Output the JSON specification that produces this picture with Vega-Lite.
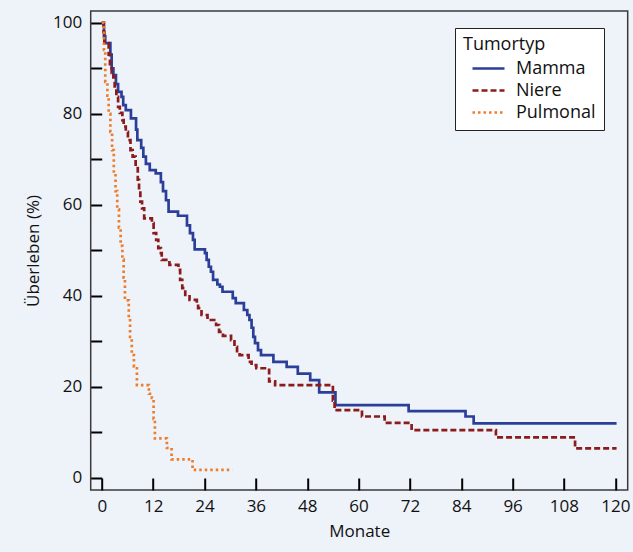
{
  "$schema": "https://vega.github.io/schema/vega-lite/v6.json",
  "width": 537,
  "height": 479,
  "autosize": {"type": "none"},
  "padding": {"left": 90.7, "top": 11, "right": 5.3, "bottom": 62},
  "background": "#eef2f9",
  "config": {
    "font": "Open Sans",
    "view": {"stroke": "#3a3a3a", "strokeWidth": 1.5, "fill": "#eef2f9"},
    "axis": {"grid": false, "domain": false, "tickColor": "#000", "tickWidth": 2, "labelColor": "#111", "titleColor": "#111", "labelFontSize": 17, "titleFontSize": 17, "titleFontWeight": "normal"}
  },
  "data": {
    "values": [
      {"Tumortyp": "Mamma", "Monat": 0, "Wert": 100},
      {"Tumortyp": "Mamma", "Monat": 0.5, "Wert": 97},
      {"Tumortyp": "Mamma", "Monat": 0.8, "Wert": 95.5},
      {"Tumortyp": "Mamma", "Monat": 2.0, "Wert": 93},
      {"Tumortyp": "Mamma", "Monat": 2.3, "Wert": 90},
      {"Tumortyp": "Mamma", "Monat": 2.7, "Wert": 88.5},
      {"Tumortyp": "Mamma", "Monat": 3.3, "Wert": 86.5},
      {"Tumortyp": "Mamma", "Monat": 3.8, "Wert": 84.8},
      {"Tumortyp": "Mamma", "Monat": 4.6, "Wert": 83.7},
      {"Tumortyp": "Mamma", "Monat": 5.0, "Wert": 81.9},
      {"Tumortyp": "Mamma", "Monat": 5.6, "Wert": 80.8},
      {"Tumortyp": "Mamma", "Monat": 6.8, "Wert": 79},
      {"Tumortyp": "Mamma", "Monat": 8.0, "Wert": 76.5},
      {"Tumortyp": "Mamma", "Monat": 8.3, "Wert": 74.2},
      {"Tumortyp": "Mamma", "Monat": 9.2, "Wert": 72.5},
      {"Tumortyp": "Mamma", "Monat": 9.7, "Wert": 70.6},
      {"Tumortyp": "Mamma", "Monat": 10.3, "Wert": 69},
      {"Tumortyp": "Mamma", "Monat": 11.2, "Wert": 67.6},
      {"Tumortyp": "Mamma", "Monat": 12.6, "Wert": 66.9},
      {"Tumortyp": "Mamma", "Monat": 13.8, "Wert": 65},
      {"Tumortyp": "Mamma", "Monat": 14.3, "Wert": 63},
      {"Tumortyp": "Mamma", "Monat": 15.0, "Wert": 61},
      {"Tumortyp": "Mamma", "Monat": 15.6, "Wert": 58.5},
      {"Tumortyp": "Mamma", "Monat": 17.8, "Wert": 57.6},
      {"Tumortyp": "Mamma", "Monat": 19.9, "Wert": 55.5},
      {"Tumortyp": "Mamma", "Monat": 20.6, "Wert": 53.8},
      {"Tumortyp": "Mamma", "Monat": 21.3, "Wert": 52.3},
      {"Tumortyp": "Mamma", "Monat": 21.7, "Wert": 50.2},
      {"Tumortyp": "Mamma", "Monat": 24.1, "Wert": 49.4},
      {"Tumortyp": "Mamma", "Monat": 24.5, "Wert": 47.9},
      {"Tumortyp": "Mamma", "Monat": 25.0, "Wert": 46.4},
      {"Tumortyp": "Mamma", "Monat": 25.5, "Wert": 45.3},
      {"Tumortyp": "Mamma", "Monat": 26.0, "Wert": 43.5},
      {"Tumortyp": "Mamma", "Monat": 27.0, "Wert": 42.5},
      {"Tumortyp": "Mamma", "Monat": 27.6, "Wert": 42},
      {"Tumortyp": "Mamma", "Monat": 28.2, "Wert": 40.9},
      {"Tumortyp": "Mamma", "Monat": 30.6, "Wert": 39.5},
      {"Tumortyp": "Mamma", "Monat": 31.3, "Wert": 38.4},
      {"Tumortyp": "Mamma", "Monat": 33.2, "Wert": 36.9},
      {"Tumortyp": "Mamma", "Monat": 34.0, "Wert": 35.8},
      {"Tumortyp": "Mamma", "Monat": 34.5, "Wert": 34.7},
      {"Tumortyp": "Mamma", "Monat": 35.0, "Wert": 33},
      {"Tumortyp": "Mamma", "Monat": 35.4, "Wert": 31},
      {"Tumortyp": "Mamma", "Monat": 35.8, "Wert": 29.6},
      {"Tumortyp": "Mamma", "Monat": 36.5, "Wert": 28.1},
      {"Tumortyp": "Mamma", "Monat": 37.2, "Wert": 27},
      {"Tumortyp": "Mamma", "Monat": 40.1, "Wert": 25.5},
      {"Tumortyp": "Mamma", "Monat": 43.2, "Wert": 24.4},
      {"Tumortyp": "Mamma", "Monat": 45.8, "Wert": 22.9},
      {"Tumortyp": "Mamma", "Monat": 48.7, "Wert": 21.5},
      {"Tumortyp": "Mamma", "Monat": 50.8, "Wert": 18.8},
      {"Tumortyp": "Mamma", "Monat": 54.6, "Wert": 16},
      {"Tumortyp": "Mamma", "Monat": 71.7, "Wert": 14.7},
      {"Tumortyp": "Mamma", "Monat": 85.0, "Wert": 13.5},
      {"Tumortyp": "Mamma", "Monat": 86.9, "Wert": 12.0},
      {"Tumortyp": "Mamma", "Monat": 120.3, "Wert": 12.0},
      {"Tumortyp": "Niere", "Monat": 0, "Wert": 100},
      {"Tumortyp": "Niere", "Monat": 0.4, "Wert": 98},
      {"Tumortyp": "Niere", "Monat": 0.6, "Wert": 95.5},
      {"Tumortyp": "Niere", "Monat": 1.6, "Wert": 93},
      {"Tumortyp": "Niere", "Monat": 1.9, "Wert": 90},
      {"Tumortyp": "Niere", "Monat": 2.3, "Wert": 89},
      {"Tumortyp": "Niere", "Monat": 2.7, "Wert": 88},
      {"Tumortyp": "Niere", "Monat": 3.0, "Wert": 86},
      {"Tumortyp": "Niere", "Monat": 3.4, "Wert": 83.7},
      {"Tumortyp": "Niere", "Monat": 3.8, "Wert": 81.5},
      {"Tumortyp": "Niere", "Monat": 4.2, "Wert": 80.2},
      {"Tumortyp": "Niere", "Monat": 4.8, "Wert": 78.6},
      {"Tumortyp": "Niere", "Monat": 5.1, "Wert": 77.2},
      {"Tumortyp": "Niere", "Monat": 5.6, "Wert": 76},
      {"Tumortyp": "Niere", "Monat": 6.1, "Wert": 74.2},
      {"Tumortyp": "Niere", "Monat": 6.7, "Wert": 72},
      {"Tumortyp": "Niere", "Monat": 7.2, "Wert": 70.6},
      {"Tumortyp": "Niere", "Monat": 7.9, "Wert": 68.4},
      {"Tumortyp": "Niere", "Monat": 8.4, "Wert": 65.5},
      {"Tumortyp": "Niere", "Monat": 8.7, "Wert": 63.3},
      {"Tumortyp": "Niere", "Monat": 9.0, "Wert": 60.7},
      {"Tumortyp": "Niere", "Monat": 9.4, "Wert": 59.2},
      {"Tumortyp": "Niere", "Monat": 9.9, "Wert": 57},
      {"Tumortyp": "Niere", "Monat": 11.7, "Wert": 56},
      {"Tumortyp": "Niere", "Monat": 12.1, "Wert": 53.8},
      {"Tumortyp": "Niere", "Monat": 12.7, "Wert": 52.3},
      {"Tumortyp": "Niere", "Monat": 13.2, "Wert": 50.5},
      {"Tumortyp": "Niere", "Monat": 13.8, "Wert": 49.4},
      {"Tumortyp": "Niere", "Monat": 14.0, "Wert": 47.9},
      {"Tumortyp": "Niere", "Monat": 15.8, "Wert": 46.8},
      {"Tumortyp": "Niere", "Monat": 17.9, "Wert": 45.7},
      {"Tumortyp": "Niere", "Monat": 18.3, "Wert": 43.5},
      {"Tumortyp": "Niere", "Monat": 18.8, "Wert": 41.7},
      {"Tumortyp": "Niere", "Monat": 19.5, "Wert": 40.2},
      {"Tumortyp": "Niere", "Monat": 20.5, "Wert": 39.1},
      {"Tumortyp": "Niere", "Monat": 22.2, "Wert": 38.4},
      {"Tumortyp": "Niere", "Monat": 22.5, "Wert": 37.3},
      {"Tumortyp": "Niere", "Monat": 23.3, "Wert": 35.8},
      {"Tumortyp": "Niere", "Monat": 24.7, "Wert": 34.7},
      {"Tumortyp": "Niere", "Monat": 26.7, "Wert": 33.6},
      {"Tumortyp": "Niere", "Monat": 27.4, "Wert": 32.1},
      {"Tumortyp": "Niere", "Monat": 28.3, "Wert": 31.2},
      {"Tumortyp": "Niere", "Monat": 30.2, "Wert": 30.3},
      {"Tumortyp": "Niere", "Monat": 31.0, "Wert": 28.8},
      {"Tumortyp": "Niere", "Monat": 31.6, "Wert": 27.5},
      {"Tumortyp": "Niere", "Monat": 32.2, "Wert": 27},
      {"Tumortyp": "Niere", "Monat": 34.3, "Wert": 25.5},
      {"Tumortyp": "Niere", "Monat": 35.0, "Wert": 24.8},
      {"Tumortyp": "Niere", "Monat": 36.1, "Wert": 24.1},
      {"Tumortyp": "Niere", "Monat": 39.1, "Wert": 21.2},
      {"Tumortyp": "Niere", "Monat": 40.5, "Wert": 20.4},
      {"Tumortyp": "Niere", "Monat": 54.0, "Wert": 17},
      {"Tumortyp": "Niere", "Monat": 54.4, "Wert": 14.9},
      {"Tumortyp": "Niere", "Monat": 60.8, "Wert": 13.5},
      {"Tumortyp": "Niere", "Monat": 66.1, "Wert": 12.1},
      {"Tumortyp": "Niere", "Monat": 72.4, "Wert": 10.5},
      {"Tumortyp": "Niere", "Monat": 92.1, "Wert": 8.9},
      {"Tumortyp": "Niere", "Monat": 110.6, "Wert": 6.5},
      {"Tumortyp": "Niere", "Monat": 120.3, "Wert": 6.5},
      {"Tumortyp": "Pulmonal", "Monat": 0, "Wert": 100},
      {"Tumortyp": "Pulmonal", "Monat": 0.5, "Wert": 94},
      {"Tumortyp": "Pulmonal", "Monat": 0.8, "Wert": 87},
      {"Tumortyp": "Pulmonal", "Monat": 1.3, "Wert": 84},
      {"Tumortyp": "Pulmonal", "Monat": 1.6, "Wert": 80},
      {"Tumortyp": "Pulmonal", "Monat": 2.0, "Wert": 76},
      {"Tumortyp": "Pulmonal", "Monat": 2.4, "Wert": 72},
      {"Tumortyp": "Pulmonal", "Monat": 2.8, "Wert": 67},
      {"Tumortyp": "Pulmonal", "Monat": 3.2, "Wert": 63},
      {"Tumortyp": "Pulmonal", "Monat": 3.6, "Wert": 59},
      {"Tumortyp": "Pulmonal", "Monat": 4.0, "Wert": 55},
      {"Tumortyp": "Pulmonal", "Monat": 4.4, "Wert": 51},
      {"Tumortyp": "Pulmonal", "Monat": 4.8, "Wert": 48},
      {"Tumortyp": "Pulmonal", "Monat": 5.1, "Wert": 44},
      {"Tumortyp": "Pulmonal", "Monat": 5.4, "Wert": 39},
      {"Tumortyp": "Pulmonal", "Monat": 6.3, "Wert": 35},
      {"Tumortyp": "Pulmonal", "Monat": 6.6, "Wert": 31},
      {"Tumortyp": "Pulmonal", "Monat": 7.0, "Wert": 27},
      {"Tumortyp": "Pulmonal", "Monat": 7.5, "Wert": 24.5},
      {"Tumortyp": "Pulmonal", "Monat": 8.2, "Wert": 20.4},
      {"Tumortyp": "Pulmonal", "Monat": 11.0, "Wert": 18.5},
      {"Tumortyp": "Pulmonal", "Monat": 11.7, "Wert": 17.6},
      {"Tumortyp": "Pulmonal", "Monat": 12.1, "Wert": 13},
      {"Tumortyp": "Pulmonal", "Monat": 12.4, "Wert": 8.7},
      {"Tumortyp": "Pulmonal", "Monat": 15.2, "Wert": 6.6},
      {"Tumortyp": "Pulmonal", "Monat": 16.3, "Wert": 4.1},
      {"Tumortyp": "Pulmonal", "Monat": 21.2, "Wert": 1.8},
      {"Tumortyp": "Pulmonal", "Monat": 30.5, "Wert": 1.8}
    ]
  },
  "mark": {"type": "line", "interpolate": "step-after", "strokeWidth": 2.7, "clip": true},
  "encoding": {
    "x": {
      "field": "Monat", "type": "quantitative",
      "scale": {"domain": [-2.6, 122.9], "nice": false, "zero": false},
      "axis": {"title": "Monate", "values": [0, 12, 24, 36, 48, 60, 72, 84, 96, 108, 120], "tickSize": -12, "labelPadding": 20, "titlePadding": 9}
    },
    "y": {
      "field": "Wert", "type": "quantitative",
      "scale": {"domain": [-2.64, 102.57], "nice": false, "zero": false},
      "axis": {"title": "Überleben (%)", "values": [0, 10, 20, 30, 40, 50, 60, 70, 80, 90, 100], "labelExpr": "datum.value % 20 == 0 ? datum.label : ''", "tickSize": -11, "labelPadding": 20, "titlePadding": 10}
    },
    "color": {
      "field": "Tumortyp", "type": "nominal",
      "scale": {"domain": ["Mamma", "Niere", "Pulmonal"], "range": ["#2c3f98", "#8c1c1c", "#ee7d2b"]},
      "legend": {
        "orient": "none", "legendX": 364.3, "legendY": 17,
        "title": "Tumortyp", "titleFontSize": 18, "titleFontWeight": "normal", "titleColor": "#111", "titlePadding": 3,
        "labelFontSize": 18, "labelColor": "#111", "labelOffset": 30,
        "symbolType": "M-0.2,0H3", "symbolSize": 400, "symbolStrokeWidth": 2.7,
        "fillColor": "white", "strokeColor": "#222", "padding": 8, "rowPadding": 1
      }
    },
    "strokeDash": {
      "field": "Tumortyp", "type": "nominal",
      "scale": {"domain": ["Mamma", "Niere", "Pulmonal"], "range": [[1, 0], [6, 3], [2.5, 3]]},
      "legend": null
    }
  }
}
